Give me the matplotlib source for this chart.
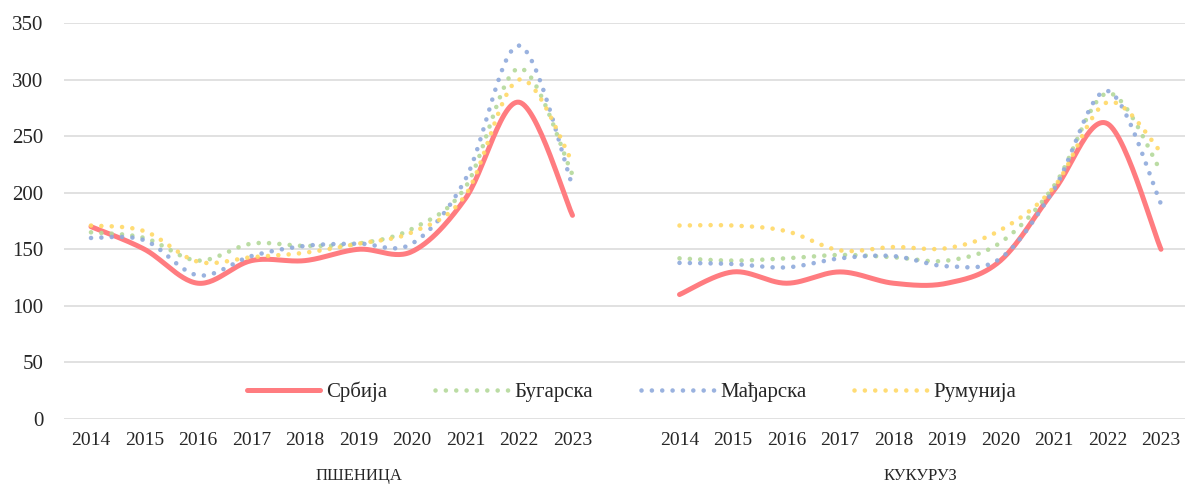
import numpy as np
import matplotlib
matplotlib.use("Agg")
import matplotlib.pyplot as plt
from matplotlib.lines import Line2D
from matplotlib.transforms import blended_transform_factory

years = ["2014", "2015", "2016", "2017", "2018", "2019", "2020", "2021", "2022", "2023"]
groups = ["ПШЕНИЦА", "КУКУРУЗ"]
series_names = ["Србија", "Бугарска", "Мађарска", "Румунија"]

serbia_wheat = [170, 150, 120, 140, 140, 150, 148, 195, 280, 180]
serbia_corn = [110, 130, 120, 130, 120, 120, 140, 202, 261, 150]
bulgaria_wheat = [165, 160, 140, 155, 153, 155, 168, 205, 310, 216]
bulgaria_corn = [142, 140, 142, 145, 143, 140, 156, 206, 288, 219]
hungary_wheat = [160, 158, 127, 144, 153, 155, 155, 212, 330, 206]
hungary_corn = [138, 137, 134, 142, 144, 135, 142, 203, 290, 190]
romania_wheat = [171, 166, 139, 143, 147, 155, 165, 198, 300, 227]
romania_corn = [171, 171, 166, 149, 152, 151, 167, 205, 280, 236]

y_ticks = [0, 50, 100, 150, 200, 250, 300, 350]

colors = ["#FF7C80", "#B4D99A", "#8FAADC", "#FFD966"]


def excel_smooth(xs, ys, n=30):
    xs = np.asarray(xs, float)
    ys = np.asarray(ys, float)
    P = np.column_stack([xs, ys])
    out = [P[:1]]
    m = len(P)
    for i in range(m - 1):
        p0 = P[i - 1] if i > 0 else P[i]
        p1 = P[i]
        p2 = P[i + 1]
        p3 = P[i + 2] if i + 2 < m else P[i + 1]
        c1 = p1 + (p2 - p0) / 6.0
        c2 = p2 - (p3 - p1) / 6.0
        t = np.linspace(0, 1, n)[1:, None]
        seg = ((1 - t) ** 3) * p1 + 3 * ((1 - t) ** 2) * t * c1 + 3 * (1 - t) * t ** 2 * c2 + t ** 3 * p2
        out.append(seg)
    out = np.vstack(out)
    return out[:, 0], out[:, 1]


W, H = 1185, 486
fig = plt.figure(figsize=(W / 100, H / 100), dpi=100)
ax_left = 64.25 / W
ax_w = 1123.5 / W
ax_bottom = 1 - 419 / H
ax_h = (419 - 23) / H
ax = fig.add_axes([ax_left, ax_bottom, ax_w, ax_h])

font = "Liberation Serif"
ncat = len(years)
x_wheat = np.arange(ncat)
x_corn = np.arange(ncat) + ncat + 1

data = [
    (serbia_wheat, serbia_corn),
    (bulgaria_wheat, bulgaria_corn),
    (hungary_wheat, hungary_corn),
    (romania_wheat, romania_corn),
]

dot_style = dict(lw=3.3, linestyle=(0, (0.01, 2.25)), dash_capstyle="round", alpha=0.9)

handles = []
for k, (wv, cv) in enumerate(data):
    for xs, ys in ((x_wheat, wv), (x_corn, cv)):
        sx, sy = excel_smooth(xs, ys)
        if k == 0:
            ax.plot(sx, sy, color=colors[k], lw=3.6, solid_capstyle="round", zorder=3)
        else:
            ax.plot(sx, sy, color=colors[k], zorder=4, **dot_style)
    if k == 0:
        handles.append(Line2D([], [], color=colors[k], lw=3.6, solid_capstyle="round"))
    else:
        handles.append(Line2D([], [], color=colors[k], **dot_style))

ax.set_xlim(-0.5, 2 * ncat + 0.5)
ax.set_ylim(0, 350)
ax.set_yticks(y_ticks)
ax.set_yticklabels([str(v) for v in y_ticks], fontsize=15, fontfamily=font, color="#262626")
ax.grid(axis="y", color="#D9D9D9", lw=1.1)
ax.set_axisbelow(True)
for s in ax.spines.values():
    s.set_visible(False)

xt = list(x_wheat) + list(x_corn)
ax.set_xticks(xt)
ax.set_xticklabels(years + years, fontsize=14, fontfamily=font, color="#262626")
ax.tick_params(axis="both", length=0)
ax.tick_params(axis="y", pad=15)
ax.tick_params(axis="x", pad=9)

trans = blended_transform_factory(ax.transData, ax.transAxes)
ax.text((x_wheat[0] + ncat) / 2, -57 / 396, groups[0], transform=trans, ha="center", va="center",
        fontsize=12, fontfamily=font, color="#262626")
ax.text((x_corn[0] + x_corn[-1]) / 2, -57 / 396, groups[1], transform=trans, ha="center", va="center",
        fontsize=12, fontfamily=font, color="#262626")

leg = ax.legend(handles, series_names, loc="center", bbox_to_anchor=(0.505, 0.068), ncol=4,
                frameon=False, handlelength=3.5, handletextpad=0.3, columnspacing=2.3,
                prop={"family": font, "size": 15})
for t in leg.get_texts():
    t.set_color("#262626")

fig.savefig("out.png", dpi=100)
